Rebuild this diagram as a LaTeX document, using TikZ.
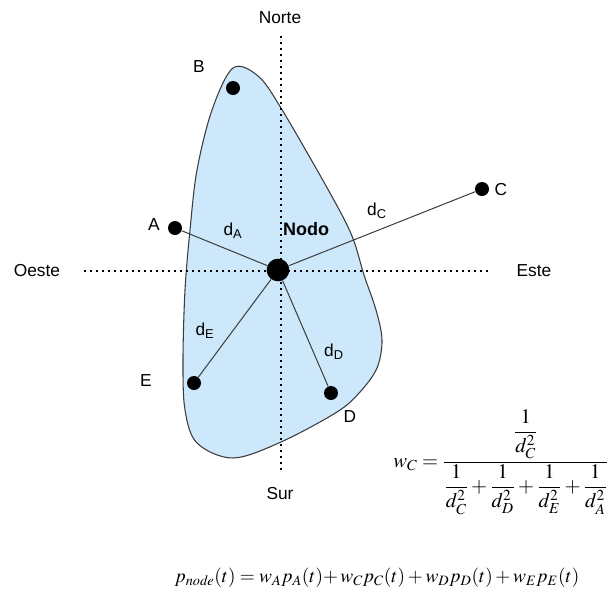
\documentclass[tikz,border=0pt]{standalone}
\usepackage{amsmath}
\usepackage{mathptmx}
\usepackage[no-math]{fontspec}
\setmainfont{Liberation Sans}
\definecolor{regionblue}{RGB}{204,232,250}
\definecolor{edgegray}{RGB}{60,60,60}
\tikzset{
  pt/.style={circle,fill=black,inner sep=0pt,minimum size=10.5pt},
  bigpt/.style={circle,fill=black,inner sep=0pt,minimum size=17pt},
  lbl/.style={font=\fontsize{13}{15}\selectfont,inner sep=0pt},
  axis/.style={line width=1.7pt,dash pattern=on 1.7pt off 2.8pt,black},
  link/.style={line width=0.75pt,edgegray}
}
\begin{document}
\begin{tikzpicture}[x=0.75pt,y=-0.75pt]
\useasboundingbox (0,0) rectangle (611,597);
% region
\draw[fill=regionblue,draw=edgegray,line width=0.8pt] plot[smooth cycle,tension=0.55] coordinates {
 (233,68) (258,76) (281,108) (330,193) (352,236) (364,275) (376,310) (382,340) (377,368) (360,392) (337,412) (281,442) (233,458) (197,443) (185,410) (183,360) (185,290) (190,230) (197,170) (212,110)};
% axes
\coordinate (nN) at (281,36);
\coordinate (nS) at (281,472);
\coordinate (nW) at (84,271);
\coordinate (nE) at (490,271);
\draw[axis] (nN) -- (nS);
\draw[axis] (nW) -- (nE);
\node[lbl] (norte) at (280,18) {Norte};
\node[lbl] (sur) at (280,494) {Sur};
\node[lbl] (oeste) at (37,271) {Oeste};
\node[lbl] (este) at (534,271) {Este};
% points
\node[bigpt] (nodo) at (278,270) {};
\node[pt] (A) at (175,228) {};
\node[pt] (B) at (233,88) {};
\node[pt] (C) at (482,189) {};
\node[pt] (D) at (331,393) {};
\node[pt] (E) at (194,383) {};
\draw[link] (nodo) -- (A);
\draw[link] (nodo) -- (C);
\draw[link] (nodo) -- (D);
\draw[link] (nodo) -- (E);
\node[lbl] (lA) at (154,225) {A};
\node[lbl] (lB) at (199,67) {B};
\node[lbl] (lC) at (501,190) {C};
\node[lbl] (lD) at (350,417) {D};
\node[lbl] (lE) at (146,381) {E};
\node[lbl,font=\fontsize{13.5}{15}\selectfont\bfseries] (lnodo) at (306,229) {Nodo};
\node[lbl] (dA) at (233,231) {d\textsubscript{A}};
\node[lbl] (dC) at (377,211) {d\textsubscript{C}};
\node[lbl] (dE) at (205,331) {d\textsubscript{E}};
\node[lbl] (dD) at (334,352) {d\textsubscript{D}};
% formulas
\node[inner sep=0pt,anchor=west,font=\fontsize{15.5}{18}\selectfont] (wc) at (393,462)
 {$\displaystyle w_C=\frac{\dfrac{1}{d_C^2}}{\dfrac{1}{d_C^2}+\dfrac{1}{d_D^2}+\dfrac{1}{d_E^2}+\dfrac{1}{d_A^2}}$};
\node[inner sep=0pt,font=\fontsize{14.5}{17}\selectfont] (pn) at (377,578)
 {$p_{\mathit{node}}(t)=w_Ap_A(t){+}\,w_Cp_C(t)+w_Dp_D(t)+w_Ep_E(t)$};
\end{tikzpicture}
\end{document}
